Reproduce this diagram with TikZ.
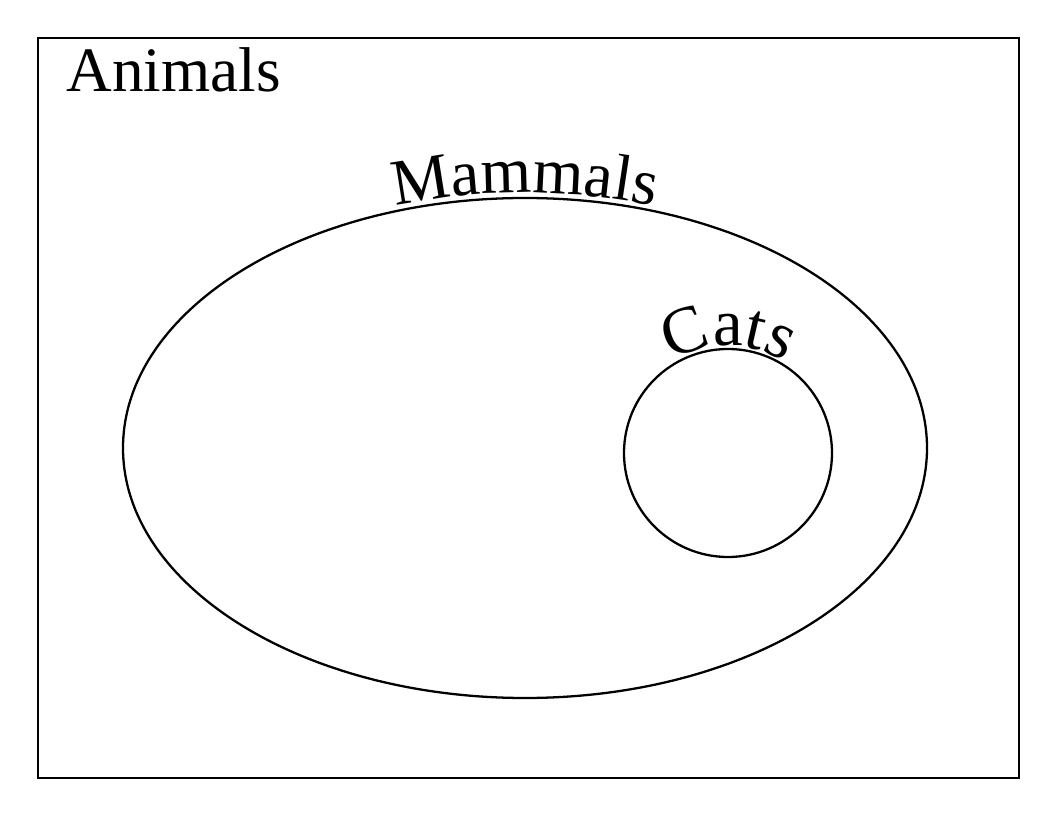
\documentclass[tikz,border=0pt]{standalone}
\usepackage{fontspec}
\setmainfont{Liberation Serif}
\usetikzlibrary{calc}
\usetikzlibrary{decorations.text}

\begin{document}
\begin{tikzpicture}[x=0.02cm,y=0.02cm]
    \useasboundingbox (0,0) rectangle (1056,816);
    \coordinate (C0) at (38,38);
    \coordinate (C1) at (1019,778);
    \coordinate (M0) at (525,368);
    \coordinate (K0) at (728,363);

     \draw [line width=1.2pt] (C0) rectangle (C1);
     \draw [line width=1.3pt] (M0) ellipse [x radius=402, y radius=250];
     \draw [line width=1.3pt] (K0) circle [radius=104];

     \node [anchor=base west, inner sep=0pt, font=\fontsize{36}{40}\selectfont] (animals) at (66,724) {Animals};

     \path [decorate, decoration={text along path, text align=center,
        text={|\fontsize{37}{40}\selectfont|Mammals}}]
        ($(M0)+(135:406 and 255)$) arc [start angle=135, end angle=45, x radius=406, y radius=255];
     \path [decorate, decoration={text along path, text align=center,
        text={|\fontsize{38}{40}\selectfont|Cats}}]
        ($(K0)+(150:107)$) arc [start angle=150, end angle=30, radius=107];
\end{tikzpicture}
\end{document}
